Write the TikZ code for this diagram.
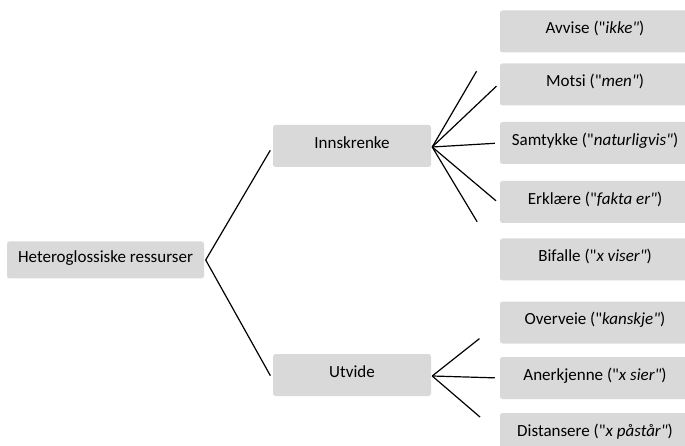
\documentclass[tikz,border=0pt]{standalone}
\usepackage{fontspec}
\setmainfont{Carlito}
\newcommand{\dq}{\textquotedbl}
\begin{document}
\begin{tikzpicture}[x=1pt,y=-1pt,
  box/.style={fill=boxgray, rounded corners=2.5pt, inner sep=0pt,
    minimum height=42pt, text height=0.68em, text depth=0.2em,
    font=\fontsize{17}{20}\selectfont},
  leaf/.style={box, minimum width=190pt},
  link/.style={draw=black, line width=1.2pt}]
\definecolor{boxgray}{HTML}{D9D9D9}
\clip (0,0) rectangle (685,446);

% root and second level
\node[box, minimum width=197pt, minimum height=37pt] (root) at (105.5,260) {Heteroglossiske ressurser};
\node[box, minimum width=158pt] (inn) at (352,146) {Innskrenke};
\node[box, minimum width=158pt] (utv) at (352,375) {Utvide};

% third level
\node[leaf] (avv) at (595,31.5) {Avvise (\dq\textit{ikke\dq})};
\node[leaf] (mot) at (595,84.5) {Motsi (\dq\textit{men\dq})};
\node[leaf] (sam) at (595,143) {Samtykke (\dq\textit{naturligvis\dq})};
\node[leaf] (erk) at (595,202) {Erklære (\dq\textit{fakta er\dq})};
\node[leaf] (bif) at (595,259.5) {Bifalle (\dq\textit{x viser\dq})};
\node[leaf] (ove) at (595,322.5) {Overveie (\dq\textit{kanskje\dq})};
\node[leaf] (ane) at (595,378) {Anerkjenne (\dq\textit{x sier\dq})};
\node[leaf] (dis) at (595,434) {Distansere (\dq\textit{x påstår\dq})};

% connectors
\draw[link, shorten >=5pt] ([xshift=1.5pt]root.east) -- (inn.west);
\draw[link, shorten >=5pt] ([xshift=1.5pt]root.east) -- ([yshift=-5pt]utv.west);

\coordinate (ia) at ([xshift=1pt,yshift=-1pt]inn.east);
\draw[link, shorten >=46pt] (ia) -- (avv.west);
\draw[link, shorten >=4.5pt] (ia) -- ([yshift=1.5pt]mot.west);
\draw[link, shorten >=5pt] (ia) -- (sam.west);
\draw[link, shorten >=5pt] (ia) -- ([yshift=-2pt]erk.west);
\draw[link, shorten >=44pt] (ia) -- (bif.west);

\coordinate (ua) at ([xshift=1pt,yshift=-1pt]utv.east);
\draw[link, shorten >=26pt] (ua) -- (ove.west);
\draw[link, shorten >=5pt] (ua) -- (ane.west);
\draw[link, shorten >=26pt] (ua) -- (dis.west);
\end{tikzpicture}
\end{document}
